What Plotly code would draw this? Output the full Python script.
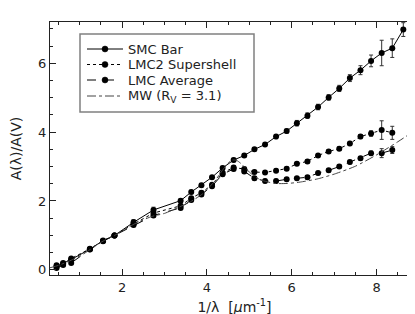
import plotly.graph_objects as go

# ---- data ----
smc_x = [0.455, 0.61, 0.80, 1.24, 1.55, 1.82, 2.27, 2.74, 3.38, 3.63, 3.87, 4.12, 4.37, 4.63,
         4.88, 5.12, 5.37, 5.63, 5.88, 6.12, 6.37, 6.62, 6.87, 7.12, 7.37, 7.62, 7.87, 8.12,
         8.37, 8.63]
smc_y = [0.10, 0.18, 0.30, 0.60, 0.85, 1.00, 1.38, 1.74, 2.01, 2.26, 2.46, 2.69, 2.96, 3.19,
         3.32, 3.50, 3.64, 3.87, 4.03, 4.26, 4.48, 4.73, 5.01, 5.27, 5.57, 5.80, 6.07, 6.30,
         6.44, 6.98]
smc_err = [0.03, 0.03, 0.04, 0.03, 0.03, 0.0, 0.08, 0.08, 0.05, 0.05, 0.05, 0.05, 0.05, 0.05,
           0.05, 0.05, 0.05, 0.06, 0.06, 0.08, 0.08, 0.08, 0.08, 0.09, 0.10, 0.13, 0.17, 0.37,
           0.27, 0.20]

lmc_x = [0.455, 0.61, 0.80, 1.24, 1.55, 1.82, 2.27, 2.74, 3.38, 3.63, 3.87, 4.12, 4.37, 4.63,
         4.88, 5.12, 5.37, 5.63, 5.88, 6.12, 6.37, 6.62, 6.87, 7.12, 7.37, 7.62, 7.87, 8.12,
         8.37]
lmc2_y = [0.13, 0.20, 0.33, 0.61, 0.84, 1.00, 1.33, 1.65, 1.86, 2.08, 2.24, 2.47, 2.82, 2.97,
          2.93, 2.84, 2.83, 2.88, 2.94, 3.08, 3.15, 3.32, 3.44, 3.52, 3.67, 3.87, 3.96, 4.06,
          3.98]
lmc2_err = [0.03, 0.03, 0.04, 0.03, 0.03, 0.0, 0.05, 0.05, 0.05, 0.05, 0.05, 0.05, 0.05, 0.05,
            0.05, 0.05, 0.05, 0.05, 0.05, 0.05, 0.05, 0.05, 0.05, 0.05, 0.06, 0.06, 0.08, 0.27,
            0.19]
lmca_y = [0.05, 0.14, 0.20, 0.59, 0.83, 1.00, 1.30, 1.58, 1.80, 2.03, 2.19, 2.43, 2.78, 2.93,
          2.86, 2.66, 2.58, 2.58, 2.63, 2.66, 2.69, 2.81, 2.89, 3.00, 3.13, 3.24, 3.39, 3.39,
          3.48]
lmca_err = [0.03, 0.03, 0.04, 0.03, 0.03, 0.0, 0.05, 0.05, 0.05, 0.05, 0.05, 0.05, 0.05, 0.05,
            0.05, 0.05, 0.05, 0.05, 0.05, 0.05, 0.05, 0.05, 0.05, 0.05, 0.05, 0.05, 0.06, 0.13,
            0.10]

mw_x = [0.3, 0.5, 0.8, 1.1, 1.5, 1.82, 2.3, 2.7, 3.0, 3.3, 3.6, 3.9, 4.2, 4.3, 4.4, 4.5, 4.6,
        4.7, 4.8, 4.9, 5.0, 5.15, 5.3, 5.6, 5.9, 6.2, 6.6, 7.0, 7.5, 8.0, 8.5, 9.0]
mw_y = [0.06, 0.13, 0.28, 0.47, 0.80, 1.00, 1.34, 1.55, 1.64, 1.80, 1.97, 2.21, 2.60, 2.78,
        2.95, 3.10, 3.19, 3.18, 3.09, 2.97, 2.84, 2.69, 2.60, 2.51, 2.51, 2.55, 2.64, 2.78,
        3.01, 3.34, 3.72, 4.13]

x_ticks = [2, 4, 6, 8]
y_ticks = [0, 2, 4, 6]

series_names = ["SMC Bar", "LMC2 Supershell", "LMC Average", "MW (R<sub>V</sub> = 3.1)"]
series_dash = ["solid", "dot", "dash", "dashdot"]
series_marker = [True, True, True, False]

FONT = "DejaVu Sans"
INK = "#222222"
W, H = 415, 314
ML, MR, MT, MB = 42, 4, 14, 47
PW, PH = W - ML - MR, H - MT - MB


def px_x(p):
    return (p - ML) / PW


def px_y(p):
    return (H - MB - p) / PH


fig = go.Figure()


def err(arr):
    return dict(type="data", array=arr, visible=True, thickness=1, width=2, color="#333")


data_sets = [(smc_x, smc_y, smc_err), (lmc_x, lmc2_y, lmc2_err), (lmc_x, lmca_y, lmca_err)]
for (xs, ys, es), name, dash in zip(data_sets, series_names[:3], series_dash[:3]):
    fig.add_trace(go.Scatter(x=xs, y=ys, error_y=err(es), mode="lines+markers", name=name,
                             showlegend=False,
                             line=dict(color="black", width=1, dash=dash),
                             marker=dict(color="black", size=6)))
fig.add_trace(go.Scatter(x=mw_x, y=mw_y, mode="lines", name=series_names[3], showlegend=False,
                         line=dict(color="#444", width=1, dash="dashdot", shape="spline",
                                   smoothing=0.6)))

axis_common = dict(showline=True, linecolor="#222", linewidth=1, mirror="allticks",
                   ticks="inside", ticklen=6, tickwidth=1, tickcolor="#222",
                   showgrid=False, zeroline=False,
                   tickfont=dict(family=FONT, size=13, color=INK),
                   minor=dict(ticks="inside", ticklen=3, tickwidth=1, tickcolor="#222",
                              dtick=0.5, showgrid=False))

fig.update_xaxes(range=[0.3, 9.0], tickvals=x_ticks, ticktext=[str(v) for v in x_ticks],
                 title=dict(text="1/λ  [<i>μ</i>m<sup>-1</sup>]", standoff=8,
                            font=dict(family=FONT, size=14, color=INK)),
                 **axis_common)
fig.update_yaxes(range=[-0.15, 7.2], tickvals=y_ticks, ticktext=[str(v) for v in y_ticks],
                 title=dict(text="A(λ)/A(V)", standoff=14,
                            font=dict(family=FONT, size=14, color=INK)),
                 **axis_common)

# ---- hand-drawn legend box (IDL style) ----
shapes = [dict(type="rect", xref="paper", yref="paper",
               x0=px_x(72), x1=px_x(246), y0=px_y(104), y1=px_y(26),
               line=dict(color="#808080", width=1.5), fillcolor="white", layer="above")]
annotations = []
entry_y = [41, 56.5, 72, 88]
for ey, name, dash, has_m in zip(entry_y, series_names, series_dash, series_marker):
    shapes.append(dict(type="line", xref="paper", yref="paper",
                       x0=px_x(79), x1=px_x(115), y0=px_y(ey), y1=px_y(ey),
                       line=dict(color="black" if has_m else "#444", width=1, dash=dash),
                       layer="above"))
    if has_m:
        shapes.append(dict(type="circle", xref="paper", yref="paper",
                           x0=px_x(94), x1=px_x(100), y0=px_y(ey + 3), y1=px_y(ey - 3),
                           line=dict(color="black", width=0.5), fillcolor="black",
                           layer="above"))
    annotations.append(dict(text=name, xref="paper", yref="paper", x=px_x(119), y=px_y(ey),
                            xanchor="left", yanchor="middle", showarrow=False,
                            borderpad=0,
                            font=dict(family=FONT, size=13, color=INK)))

fig.update_layout(
    width=W, height=H,
    margin=dict(l=ML, r=MR, t=MT, b=MB),
    paper_bgcolor="white", plot_bgcolor="white",
    showlegend=False,
    shapes=shapes, annotations=annotations,
    font=dict(family=FONT, color=INK),
)

fig.write_html("out.html")
